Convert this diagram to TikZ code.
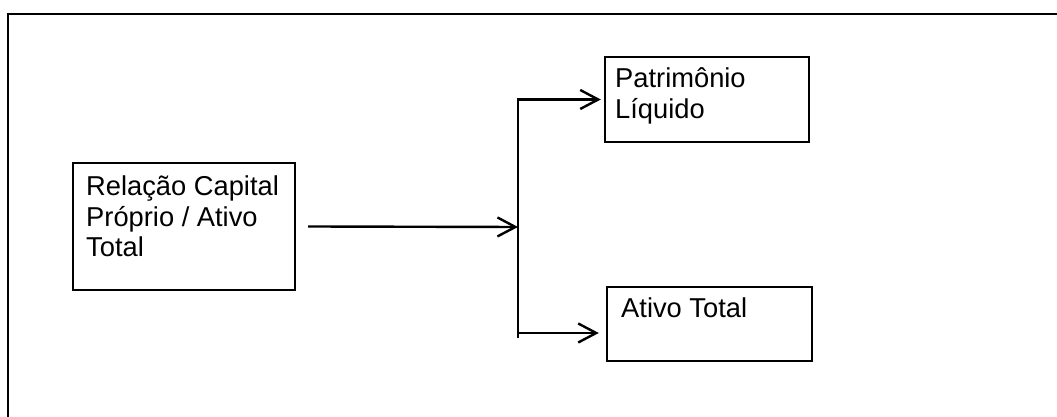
\documentclass[tikz,border=0pt]{standalone}
\usepackage{fontspec}
\setmainfont{Liberation Sans}
\usetikzlibrary{arrows.meta}
\begin{document}
\begin{tikzpicture}[x=1pt,y=1pt,line width=2.4pt,
  box/.style={draw, line width=2.4pt, inner sep=0pt, rectangle},
  lbl/.style={anchor=base west, inner sep=0pt, font=\fontsize{27.3}{30.5}\selectfont},
  arr/.style={-{Straight Barb[length=18pt,width=19pt]}}]
\useasboundingbox (0,0) rectangle (1057,417);
% outer frame (only top and left visible)
\draw (1065,403) -- (8,403) -- (8,-8);
% boxes
\node[box, minimum width=222pt, minimum height=127pt] (src) at (184,190.5) {};
\node[box, minimum width=204pt, minimum height=85pt] (pl) at (707,317.5) {};
\node[box, minimum width=205pt, minimum height=74pt] (ativo) at (709.5,93) {};
% texts
\node[lbl] (srct) at (85,221) {\parbox[t]{210pt}{Relação Capital\\Próprio / Ativo\\Total}};
\node[lbl] (plt) at (614,329) {\parbox[t]{190pt}{Patrimônio\\Líquido}};
\node[lbl] (ativot) at (620,99) {Ativo Total};
% connectors
\coordinate (jm) at (518,190);
\coordinate (jt) at (518,317.5);
\coordinate (jb) at (518,79);
\coordinate (jb2) at (518,84);
\draw[arr] ([xshift=12pt]src.east) -- (jm);
\draw[arr] (jb) -- (jt) -- ([xshift=-3pt]pl.west);
\draw[arr] (jb2) -- ([xshift=-7pt]jb2 -| ativo.west);
\end{tikzpicture}
\end{document}
